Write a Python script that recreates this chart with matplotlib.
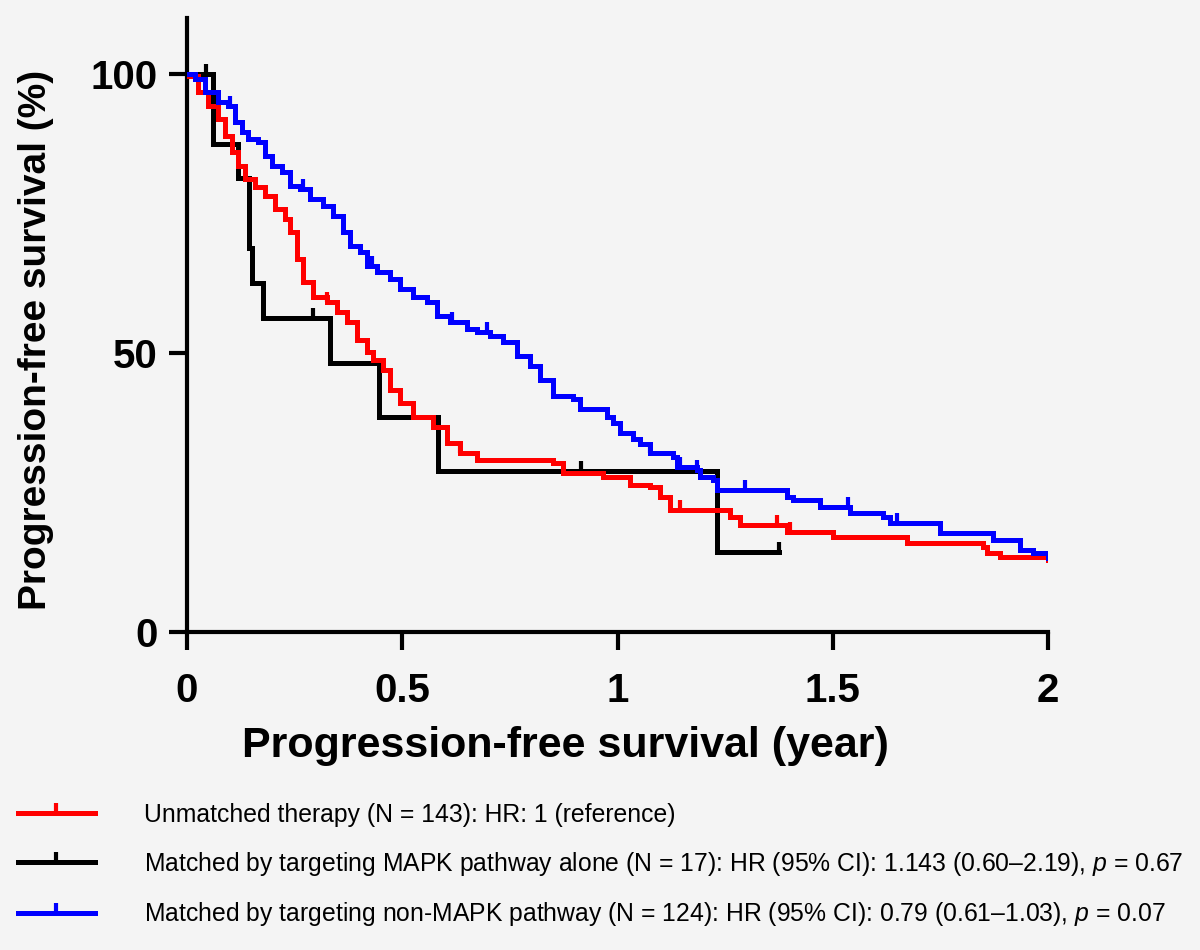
import matplotlib
matplotlib.use("Agg")
import matplotlib.pyplot as plt
from matplotlib.lines import Line2D
from matplotlib import font_manager

# ---------------- data ----------------
# Unmatched therapy (red)
red_t = [0.0, 0.002, 0.026, 0.049, 0.072, 0.088, 0.105, 0.118, 0.135, 0.158, 0.181,
         0.204, 0.228, 0.239, 0.256, 0.269, 0.293, 0.325, 0.348, 0.372, 0.395, 0.418,
         0.432, 0.455, 0.472, 0.495, 0.525, 0.571, 0.604, 0.634, 0.673, 0.85, 0.873,
         0.966, 1.029, 1.075, 1.099, 1.122, 1.261, 1.285, 1.394, 1.50, 1.672, 1.849,
         1.858, 1.889, 2.0]
red_s = [100, 99.6, 96.8, 94.3, 91.9, 88.9, 86.0, 83.5, 81.1, 79.7, 78.1,
         75.8, 74.0, 71.6, 66.8, 62.7, 60.1, 59.1, 57.3, 55.5, 52.4, 50.1,
         48.8, 47.0, 43.4, 41.1, 38.6, 36.8, 33.9, 32.1, 30.9, 30.3, 28.5,
         27.8, 26.4, 26.0, 24.2, 21.9, 20.6, 19.2, 18.0, 17.1, 16.0, 15.3,
         14.2, 13.5, 12.9]
red_cens = [0.325, 0.634, 1.145, 1.37, 1.40]

# Matched by targeting MAPK pathway alone (black)
blk_t = [0.0, 0.060, 0.118, 0.143, 0.150, 0.176, 0.332, 0.446, 0.582, 1.230, 1.375]
blk_s = [100, 87.5, 81.25, 68.75, 62.5, 56.25, 48.2, 38.6, 28.9, 14.4, 14.4]
blk_cens = [0.044, 0.292, 0.916, 1.375]

# Matched by targeting non-MAPK pathway (blue)
blu_t = [0.0, 0.019, 0.042, 0.072, 0.095, 0.111, 0.128, 0.142, 0.165, 0.181, 0.197,
         0.221, 0.239, 0.262, 0.286, 0.316, 0.339, 0.362, 0.379, 0.402, 0.418, 0.441,
         0.472, 0.495, 0.525, 0.557, 0.581, 0.611, 0.650, 0.674, 0.704, 0.734, 0.767,
         0.797, 0.820, 0.850, 0.897, 0.913, 0.976, 0.990, 1.006, 1.036, 1.052, 1.075,
         1.129, 1.138, 1.185, 1.192, 1.222, 1.231, 1.394, 1.408, 1.470, 1.540, 1.617,
         1.633, 1.749, 1.872, 1.935, 1.965, 2.0]
blu_s = [100, 99.1, 96.8, 95.0, 94.3, 91.4, 89.6, 88.3, 87.8, 85.3, 83.5,
         82.4, 79.9, 79.4, 77.6, 76.3, 74.5, 71.6, 69.1, 68.0, 65.5, 64.5,
         63.2, 61.4, 60.1, 59.1, 56.6, 55.5, 54.2, 53.7, 53.0, 51.9, 49.4,
         47.6, 45.2, 42.2, 41.7, 39.9, 38.6, 37.5, 35.7, 34.5, 33.6, 32.1,
         31.4, 29.6, 29.1, 27.8, 27.3, 25.5, 24.2, 23.7, 22.4, 21.4, 20.6,
         19.6, 17.8, 16.5, 14.7, 14.2, 13.3]
blu_cens = [0.10, 0.27, 0.43, 0.615, 0.697, 1.075, 1.145, 1.185, 1.296, 1.535, 1.649]

labels = [
    "Unmatched therapy (N = 143): HR: 1 (reference)",
    "Matched by targeting MAPK pathway alone (N = 17): HR (95% CI): 1.143 (0.60\u20132.19), $\\mathit{p}$ = 0.67",
    "Matched by targeting non-MAPK pathway (N = 124): HR (95% CI): 0.79 (0.61\u20131.03), $\\mathit{p}$ = 0.07",
]
colors = ["#ff0000", "#000000", "#0000ff"]
xticks = [0, 0.5, 1, 1.5, 2]
xticklabels = ["0", "0.5", "1", "1.5", "2"]
yticks = [0, 50, 100]
yticklabels = ["0", "50", "100"]

# ---------------- fonts ----------------
names = {f.name for f in font_manager.fontManager.ttflist}
narrow = "Liberation Sans Narrow" if "Liberation Sans Narrow" in names else "Liberation Sans"
plt.rcParams["font.family"] = ["Liberation Sans", "DejaVu Sans"]
plt.rcParams["mathtext.fontset"] = "custom"
plt.rcParams["mathtext.rm"] = narrow
plt.rcParams["mathtext.it"] = narrow + ":italic"

BG = "#f4f4f4"
fig = plt.figure(figsize=(12, 9.5), dpi=100, facecolor=BG)
ax = fig.add_axes([187 / 1200, 1 - 632 / 950, (1048 - 187) / 1200, (632 - 18) / 950])
ax.set_facecolor(BG)


def surv_at(ts, ss, t):
    v = ss[0]
    for ti, si in zip(ts, ss):
        if ti <= t:
            v = si
    return v


series = [(red_t, red_s, red_cens), (blk_t, blk_s, blk_cens), (blu_t, blu_s, blu_cens)]
for i in [1, 0, 2]:
    ts, ss, cs = series[i]
    ax.step(ts, ss, where="post", color=colors[i], lw=3.6, solid_joinstyle="miter", zorder=3)
    cy = [surv_at(ts, ss, c) for c in cs]
    ax.plot(cs, cy, linestyle="none", marker=2, markersize=7, mew=3, color=colors[i], zorder=3)

ax.set_xlim(0, 2)
ax.set_ylim(0, 110)
for s in ["top", "right"]:
    ax.spines[s].set_visible(False)
for s in ["left", "bottom"]:
    ax.spines[s].set_linewidth(3)
ax.spines["left"].set_bounds(0, 110)

ax.set_xticks(xticks)
ax.set_xticklabels(xticklabels)
ax.set_yticks(yticks)
ax.set_yticklabels(yticklabels)
ax.tick_params(axis="both", direction="out", length=13, width=3, labelsize=29)
ax.tick_params(axis="x", pad=16)
ax.tick_params(axis="y", pad=8)
for lab in ax.get_xticklabels() + ax.get_yticklabels():
    lab.set_fontweight("bold")

ax.set_xlabel("Progression-free survival (year)", fontsize=31, fontweight="bold")
ax.set_ylabel("Progression-free survival (%)", fontsize=28, fontweight="bold")
ax.xaxis.set_label_coords(0.439, -0.153)
ax.yaxis.set_label_coords(-0.154, 0.476)

handles = [Line2D([], [], color=c, lw=3.6, marker=2, markersize=7, mew=3) for c in colors]
leg = fig.legend(handles, labels, loc="upper left", bbox_to_anchor=(18 / 1200, 1 - 803 / 950),
                 frameon=False, numpoints=1, handlelength=3.1, handletextpad=2.0,
                 labelspacing=0.92, borderpad=0, borderaxespad=0,
                 prop={"family": narrow, "size": 17.8})

fig.savefig("out.png", dpi=100, facecolor=BG)
